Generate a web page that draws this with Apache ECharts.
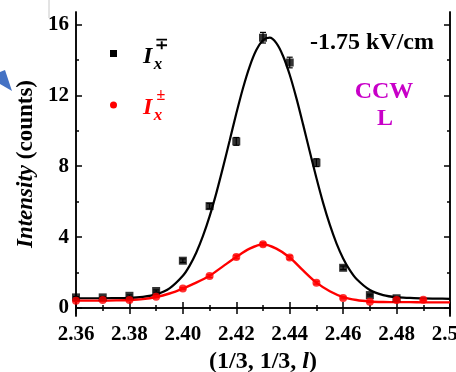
<!DOCTYPE html>
<html>
<head>
<meta charset="utf-8">
<script src="https://cdn.jsdelivr.net/npm/echarts@6/dist/echarts.min.js"></script>
<style>html,body{margin:0;padding:0;background:#fff;}#c{width:456px;height:372px;}</style>
</head>
<body>
<div id="c"></div>
<script>
// ---- data ----
const pointX = [2.36, 2.37, 2.38, 2.39, 2.40, 2.41, 2.42, 2.43, 2.44, 2.45, 2.46, 2.47, 2.48, 2.49];
const blackY = [0.60, 0.60, 0.69, 0.96, 2.67, 5.75, 9.40, 15.25, 13.85, 8.20, 2.27, 0.73, 0.55];
const blackErr = [0.05, 0.05, 0.05, 0.06, 0.1, 0.15, 0.22, 0.3, 0.3, 0.22, 0.1, 0.05, 0.05];
const redY = [0.41, 0.45, 0.45, 0.64, 1.10, 1.80, 2.88, 3.60, 2.85, 1.43, 0.57, 0.35, 0.45, 0.46];
const redErr = [0.04, 0.04, 0.04, 0.05, 0.06, 0.08, 0.1, 0.1, 0.1, 0.08, 0.05, 0.04, 0.04, 0.04];

const blackFitX = [2.360, 2.365, 2.370, 2.375, 2.380, 2.385, 2.390, 2.395, 2.400, 2.4025, 2.405, 2.4075,
  2.410, 2.4125, 2.415, 2.4175, 2.420, 2.4225, 2.425, 2.4275, 2.430, 2.4325, 2.435, 2.4375, 2.440, 2.4425,
  2.445, 2.4475, 2.450, 2.4525, 2.455, 2.4575, 2.460, 2.4625, 2.465, 2.470, 2.475, 2.480, 2.485, 2.490, 2.495, 2.500];
const blackFitY = [0.55, 0.55, 0.55, 0.56, 0.57, 0.63, 0.77, 1.11, 1.82, 2.38, 3.12, 4.05,
  5.17, 6.47, 7.92, 9.44, 10.97, 12.40, 13.62, 14.55, 15.11, 15.25, 14.94, 14.22, 13.16, 11.84,
  10.36, 8.83, 7.33, 5.93, 4.70, 3.65, 2.80, 2.14, 1.64, 1.02, 0.73, 0.61, 0.57, 0.54, 0.53, 0.52];

const redFitX = [2.360, 2.365, 2.370, 2.375, 2.380, 2.385, 2.390, 2.395, 2.400, 2.405, 2.410, 2.415,
  2.420, 2.425, 2.430, 2.435, 2.440, 2.445, 2.450, 2.455, 2.460, 2.465, 2.470, 2.475, 2.480, 2.485,
  2.490, 2.495, 2.500];
const redFitY = [0.42, 0.42, 0.42, 0.43, 0.45, 0.50, 0.62, 0.82, 1.10, 1.43, 1.82, 2.35,
  2.88, 3.35, 3.60, 3.35, 2.85, 2.12, 1.43, 0.95, 0.62, 0.45, 0.37, 0.34, 0.33, 0.33,
  0.32, 0.32, 0.32];

const yLabelValues = [0, 4, 8, 12, 16];
const yMinorValues = [2, 6, 10, 14];
const fieldText = '-1.75 kV/cm';
const modeText = ['CCW', 'L'];

// ---- build ----
const FONT = '"Liberation Serif", "Times New Roman", serif';
const zip = (xs, ys) => ys.map((y, i) => [xs[i], y]);
const zip3 = (xs, ys, es) => ys.map((y, i) => [xs[i], y, es[i]]);

const YMIN = -0.45, YMAX = 16.7;
const axisLineStyle = { color: '#000', width: 1.5 };

function yAx(pos, ticks, len, labels, name) {
  const a = {
    type: 'value', position: pos, min: YMIN, max: YMAX,
    axisLine: { show: true, lineStyle: axisLineStyle },
    axisTick: { show: true, inside: true, length: len, customValues: ticks, lineStyle: { color: '#000', width: 1.5 } },
    axisLabel: labels ? {
      show: true, customValues: yLabelValues, color: '#000', fontFamily: FONT, fontWeight: 'bold', fontSize: 21, margin: 7
    } : { show: false },
    splitLine: { show: false }
  };
  if (name) {
    a.name = '{i|Intensity} (counts)';
    a.nameLocation = 'middle';
    a.nameGap = 33;
    a.nameTextStyle = {
      color: '#000', fontFamily: FONT, fontWeight: 'bold', fontSize: 23,
      rich: { i: { fontFamily: FONT, fontWeight: 'bold', fontStyle: 'italic', fontSize: 23, color: '#000' } }
    };
  }
  return a;
}

function xAx(pos, labels) {
  const a = {
    type: 'value', position: pos, min: 2.36, max: 2.5, interval: 0.02,
    axisLine: { show: true, lineStyle: axisLineStyle },
    axisTick: { show: true, inside: true, length: 6, lineStyle: { color: '#000', width: 1.5 } },
    minorTick: { show: true, splitNumber: 2, length: 3, lineStyle: { color: '#000', width: 1.5 } },
    axisLabel: labels ? {
      show: true, color: '#000', fontFamily: FONT, fontWeight: 'bold', fontSize: 21, margin: 8,
      formatter: v => v.toFixed(2), showMaxLabel: true, showMinLabel: true
    } : { show: false },
    splitLine: { show: false }, minorSplitLine: { show: false }
  };
  if (labels) {
    a.name = '(1/3, 1/3, {i|l})';
    a.nameLocation = 'middle';
    a.nameGap = 32;
    a.nameTextStyle = {
      color: '#000', fontFamily: FONT, fontWeight: 'bold', fontSize: 24,
      rich: { i: { fontFamily: FONT, fontWeight: 'bold', fontStyle: 'italic', fontSize: 24, color: '#000' } }
    };
  }
  return a;
}

function errRender(color) {
  return function (params, api) {
    const x = api.value(0), y = api.value(1), e = api.value(2);
    const p1 = api.coord([x, y - e]);
    const p2 = api.coord([x, y + e]);
    const w = 3;
    const st = { stroke: color, lineWidth: 1.2 };
    return {
      type: 'group',
      children: [
        { type: 'line', shape: { x1: p1[0], y1: p1[1], x2: p2[0], y2: p2[1] }, style: st },
        { type: 'line', shape: { x1: p1[0] - w, y1: p1[1], x2: p1[0] + w, y2: p1[1] }, style: st },
        { type: 'line', shape: { x1: p2[0] - w, y1: p2[1], x2: p2[0] + w, y2: p2[1] }, style: st }
      ]
    };
  };
}

const RED = '#ff0000';
const MAG = '#c800c8';

const chart = echarts.init(document.getElementById('c'), null, { renderer: 'canvas' });
chart.setOption({
  animation: false,
  backgroundColor: '#fff',
  grid: { left: 76, right: 6, top: 12, bottom: 56, containLabel: false, outerBoundsMode: 'none' },
  xAxis: [xAx('bottom', true), xAx('top', false)],
  yAxis: [
    yAx('left', yLabelValues, 6, true, true),
    yAx('left', yMinorValues, 3, false, false),
    yAx('right', yLabelValues, 6, false, false),
    yAx('right', yMinorValues, 3, false, false)
  ],
  series: [
    { type: 'line', data: zip(blackFitX, blackFitY), smooth: 0.3, showSymbol: false,
      lineStyle: { color: '#000', width: 2.2 }, z: 2 },
    { type: 'line', data: zip(redFitX, redFitY), smooth: 0.3, showSymbol: false,
      lineStyle: { color: RED, width: 2.4 }, z: 3 },
    { type: 'custom', renderItem: errRender('#000'), data: zip3(pointX, blackY, blackErr), z: 4 },
    { type: 'custom', renderItem: errRender(RED), data: zip3(pointX, redY, redErr), z: 4 },
    { type: 'scatter', data: zip(pointX, blackY), symbol: 'rect', symbolSize: 8,
      itemStyle: { color: '#000' }, z: 5 },
    { type: 'scatter', data: zip(pointX, redY), symbol: 'circle', symbolSize: 8,
      itemStyle: { color: RED }, z: 6 }
  ],
  graphic: [
    // annotations
    { type: 'text', x: 372, y: 43, style: { text: fieldText, fill: '#000', font: 'bold 24px ' + FONT, align: 'center', verticalAlign: 'middle' } },
    { type: 'text', x: 384, y: 92, style: { text: modeText[0], fill: MAG, font: 'bold 24px ' + FONT, align: 'center', verticalAlign: 'middle' } },
    { type: 'text', x: 385, y: 119, style: { text: modeText[1], fill: MAG, font: 'bold 24px ' + FONT, align: 'center', verticalAlign: 'middle' } },
    // legend
    { type: 'rect', shape: { x: 110, y: 50, width: 7, height: 7 }, style: { fill: '#000' } },
    { type: 'text', x: 143, y: 57, style: { text: 'I', fill: '#000', font: 'italic bold 24px ' + FONT, align: 'left', verticalAlign: 'middle' } },
    { type: 'text', x: 161, y: 45, style: { text: '\u2213', fill: '#000', font: 'bold 16px ' + FONT, align: 'center', verticalAlign: 'middle' } },
    { type: 'text', x: 158, y: 65, style: { text: 'x', fill: '#000', font: 'italic bold 17px ' + FONT, align: 'center', verticalAlign: 'middle' } },
    { type: 'circle', shape: { cx: 113.5, cy: 105, r: 3.5 }, style: { fill: RED } },
    { type: 'text', x: 143, y: 108, style: { text: 'I', fill: RED, font: 'italic bold 24px ' + FONT, align: 'left', verticalAlign: 'middle' } },
    { type: 'text', x: 161, y: 96, style: { text: '\u00b1', fill: RED, font: 'bold 16px ' + FONT, align: 'center', verticalAlign: 'middle' } },
    { type: 'text', x: 158, y: 116, style: { text: 'x', fill: RED, font: 'italic bold 17px ' + FONT, align: 'center', verticalAlign: 'middle' } },
    // artifacts at the left edge of the reference
    { type: 'polygon', shape: { points: [[0, 72], [5, 70], [12, 91], [0, 84]] }, style: { fill: '#4472c4' } },
    { type: 'line', shape: { x1: 49, y1: 0, x2: 49, y2: 18 }, style: { stroke: '#c8c8c8', lineWidth: 1 } }
  ]
});
</script>
</body>
</html>
